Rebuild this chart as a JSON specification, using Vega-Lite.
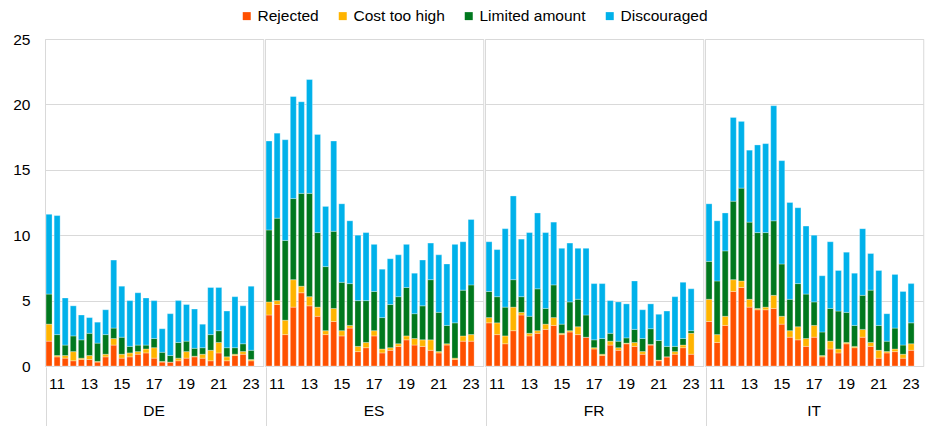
{
  "$schema": "https://vega.github.io/schema/vega-lite/v6.json",
  "padding": {"left": 12, "top": 8, "right": 3, "bottom": 0},
  "config": {
    "font": "Liberation Sans",
    "view": {"stroke": "#d9d9d9", "strokeWidth": 1},
    "facet": {"spacing": 0}
  },
  "data": {
    "values": [
      {"c":"DE","p":"10H2","Rejected":1.9,"Cost too high":1.3,"Limited amount":2.3,"Discouraged":6.1},
      {"c":"DE","p":"11H1","Rejected":0.7,"Cost too high":0.1,"Limited amount":1.6,"Discouraged":9.1},
      {"c":"DE","p":"11H2","Rejected":0.6,"Cost too high":0.2,"Limited amount":0.8,"Discouraged":3.6},
      {"c":"DE","p":"12H1","Rejected":0.4,"Cost too high":0.7,"Limited amount":1.2,"Discouraged":2.3},
      {"c":"DE","p":"12H2","Rejected":0.5,"Cost too high":0.1,"Limited amount":1.4,"Discouraged":1.9},
      {"c":"DE","p":"13H1","Rejected":0.5,"Cost too high":0.3,"Limited amount":1.7,"Discouraged":1.2},
      {"c":"DE","p":"13H2","Rejected":0.3,"Cost too high":0.05,"Limited amount":1.4,"Discouraged":1.6},
      {"c":"DE","p":"14H1","Rejected":0.7,"Cost too high":0.2,"Limited amount":1.5,"Discouraged":1.9},
      {"c":"DE","p":"14H2","Rejected":1.6,"Cost too high":0.5,"Limited amount":0.8,"Discouraged":5.2},
      {"c":"DE","p":"15H1","Rejected":0.6,"Cost too high":0.3,"Limited amount":1.3,"Discouraged":3.9},
      {"c":"DE","p":"15H2","Rejected":0.7,"Cost too high":0.3,"Limited amount":0.5,"Discouraged":3.5},
      {"c":"DE","p":"16H1","Rejected":0.9,"Cost too high":0.2,"Limited amount":0.5,"Discouraged":4.0},
      {"c":"DE","p":"16H2","Rejected":1.0,"Cost too high":0.3,"Limited amount":0.3,"Discouraged":3.6},
      {"c":"DE","p":"17H1","Rejected":0.6,"Cost too high":0.8,"Limited amount":0.7,"Discouraged":2.9},
      {"c":"DE","p":"17H2","Rejected":0.3,"Cost too high":0.05,"Limited amount":0.7,"Discouraged":1.8},
      {"c":"DE","p":"18H1","Rejected":0.3,"Cost too high":0.0,"Limited amount":0.5,"Discouraged":3.2},
      {"c":"DE","p":"18H2","Rejected":0.4,"Cost too high":0.2,"Limited amount":1.2,"Discouraged":3.2},
      {"c":"DE","p":"19H1","Rejected":0.6,"Cost too high":0.5,"Limited amount":0.8,"Discouraged":2.8},
      {"c":"DE","p":"19H2","Rejected":0.7,"Cost too high":0.05,"Limited amount":0.6,"Discouraged":3.0},
      {"c":"DE","p":"20H1","Rejected":0.6,"Cost too high":0.3,"Limited amount":0.5,"Discouraged":1.8},
      {"c":"DE","p":"20H2","Rejected":0.4,"Cost too high":0.8,"Limited amount":1.2,"Discouraged":3.6},
      {"c":"DE","p":"21H1","Rejected":1.0,"Cost too high":0.8,"Limited amount":0.9,"Discouraged":3.3},
      {"c":"DE","p":"21H2","Rejected":0.4,"Cost too high":0.3,"Limited amount":0.7,"Discouraged":2.8},
      {"c":"DE","p":"22H1","Rejected":0.8,"Cost too high":0.1,"Limited amount":0.5,"Discouraged":3.9},
      {"c":"DE","p":"22H2","Rejected":0.9,"Cost too high":0.2,"Limited amount":0.6,"Discouraged":2.9},
      {"c":"DE","p":"23H1","Rejected":0.4,"Cost too high":0.1,"Limited amount":0.7,"Discouraged":4.9},
      {"c":"ES","p":"10H2","Rejected":3.9,"Cost too high":1.0,"Limited amount":5.5,"Discouraged":6.8},
      {"c":"ES","p":"11H1","Rejected":4.7,"Cost too high":0.3,"Limited amount":6.3,"Discouraged":6.5},
      {"c":"ES","p":"11H2","Rejected":2.4,"Cost too high":1.1,"Limited amount":6.1,"Discouraged":7.7},
      {"c":"ES","p":"12H1","Rejected":4.5,"Cost too high":2.1,"Limited amount":6.2,"Discouraged":7.8},
      {"c":"ES","p":"12H2","Rejected":5.6,"Cost too high":0.5,"Limited amount":7.1,"Discouraged":7.0},
      {"c":"ES","p":"13H1","Rejected":4.6,"Cost too high":0.7,"Limited amount":7.9,"Discouraged":8.7},
      {"c":"ES","p":"13H2","Rejected":3.8,"Cost too high":0.7,"Limited amount":5.7,"Discouraged":7.5},
      {"c":"ES","p":"14H1","Rejected":2.4,"Cost too high":0.3,"Limited amount":4.9,"Discouraged":4.6},
      {"c":"ES","p":"14H2","Rejected":3.4,"Cost too high":1.0,"Limited amount":5.9,"Discouraged":6.9},
      {"c":"ES","p":"15H1","Rejected":2.3,"Cost too high":0.4,"Limited amount":3.7,"Discouraged":6.0},
      {"c":"ES","p":"15H2","Rejected":2.9,"Cost too high":0.2,"Limited amount":3.2,"Discouraged":4.8},
      {"c":"ES","p":"16H1","Rejected":1.1,"Cost too high":0.4,"Limited amount":3.5,"Discouraged":5.0},
      {"c":"ES","p":"16H2","Rejected":1.4,"Cost too high":0.4,"Limited amount":3.2,"Discouraged":5.2},
      {"c":"ES","p":"17H1","Rejected":2.3,"Cost too high":0.4,"Limited amount":3.0,"Discouraged":3.6},
      {"c":"ES","p":"17H2","Rejected":1.0,"Cost too high":0.3,"Limited amount":2.4,"Discouraged":3.7},
      {"c":"ES","p":"18H1","Rejected":1.2,"Cost too high":0.2,"Limited amount":3.3,"Discouraged":3.5},
      {"c":"ES","p":"18H2","Rejected":1.5,"Cost too high":0.2,"Limited amount":3.6,"Discouraged":3.2},
      {"c":"ES","p":"19H1","Rejected":2.0,"Cost too high":0.3,"Limited amount":3.7,"Discouraged":3.3},
      {"c":"ES","p":"19H2","Rejected":1.6,"Cost too high":0.5,"Limited amount":1.9,"Discouraged":3.1},
      {"c":"ES","p":"20H1","Rejected":1.5,"Cost too high":0.5,"Limited amount":2.6,"Discouraged":3.5},
      {"c":"ES","p":"20H2","Rejected":1.2,"Cost too high":0.8,"Limited amount":4.6,"Discouraged":2.8},
      {"c":"ES","p":"21H1","Rejected":1.0,"Cost too high":0.1,"Limited amount":3.0,"Discouraged":4.4},
      {"c":"ES","p":"21H2","Rejected":1.6,"Cost too high":0.1,"Limited amount":1.4,"Discouraged":4.7},
      {"c":"ES","p":"22H1","Rejected":0.5,"Cost too high":0.1,"Limited amount":2.7,"Discouraged":6.0},
      {"c":"ES","p":"22H2","Rejected":1.9,"Cost too high":0.4,"Limited amount":3.5,"Discouraged":3.7},
      {"c":"ES","p":"23H1","Rejected":1.9,"Cost too high":0.5,"Limited amount":3.8,"Discouraged":5.0},
      {"c":"FR","p":"10H2","Rejected":3.3,"Cost too high":0.4,"Limited amount":2.0,"Discouraged":3.8},
      {"c":"FR","p":"11H1","Rejected":2.4,"Cost too high":0.9,"Limited amount":2.0,"Discouraged":3.6},
      {"c":"FR","p":"11H2","Rejected":1.7,"Cost too high":0.6,"Limited amount":2.2,"Discouraged":6.0},
      {"c":"FR","p":"12H1","Rejected":2.7,"Cost too high":1.8,"Limited amount":2.1,"Discouraged":6.4},
      {"c":"FR","p":"12H2","Rejected":3.9,"Cost too high":0.2,"Limited amount":1.2,"Discouraged":4.4},
      {"c":"FR","p":"13H1","Rejected":2.3,"Cost too high":0.2,"Limited amount":1.3,"Discouraged":6.4},
      {"c":"FR","p":"13H2","Rejected":2.5,"Cost too high":0.2,"Limited amount":3.2,"Discouraged":5.8},
      {"c":"FR","p":"14H1","Rejected":2.8,"Cost too high":0.4,"Limited amount":1.2,"Discouraged":5.8},
      {"c":"FR","p":"14H2","Rejected":3.1,"Cost too high":0.6,"Limited amount":2.5,"Discouraged":4.8},
      {"c":"FR","p":"15H1","Rejected":2.4,"Cost too high":0.1,"Limited amount":0.7,"Discouraged":5.8},
      {"c":"FR","p":"15H2","Rejected":2.6,"Cost too high":0.1,"Limited amount":2.2,"Discouraged":4.5},
      {"c":"FR","p":"16H1","Rejected":2.4,"Cost too high":0.6,"Limited amount":2.1,"Discouraged":3.9},
      {"c":"FR","p":"16H2","Rejected":2.2,"Cost too high":0.0,"Limited amount":1.7,"Discouraged":5.1},
      {"c":"FR","p":"17H1","Rejected":1.3,"Cost too high":0.1,"Limited amount":0.6,"Discouraged":4.3},
      {"c":"FR","p":"17H2","Rejected":0.8,"Cost too high":0.1,"Limited amount":1.2,"Discouraged":4.2},
      {"c":"FR","p":"18H1","Rejected":1.6,"Cost too high":0.3,"Limited amount":0.6,"Discouraged":2.5},
      {"c":"FR","p":"18H2","Rejected":1.2,"Cost too high":0.2,"Limited amount":0.5,"Discouraged":3.0},
      {"c":"FR","p":"19H1","Rejected":1.7,"Cost too high":0.05,"Limited amount":0.4,"Discouraged":2.6},
      {"c":"FR","p":"19H2","Rejected":1.5,"Cost too high":0.3,"Limited amount":1.0,"Discouraged":3.7},
      {"c":"FR","p":"20H1","Rejected":0.9,"Cost too high":0.2,"Limited amount":1.0,"Discouraged":2.2},
      {"c":"FR","p":"20H2","Rejected":1.6,"Cost too high":0.05,"Limited amount":1.2,"Discouraged":1.9},
      {"c":"FR","p":"21H1","Rejected":0.4,"Cost too high":0.05,"Limited amount":1.5,"Discouraged":2.0},
      {"c":"FR","p":"21H2","Rejected":0.7,"Cost too high":0.0,"Limited amount":0.8,"Discouraged":2.7},
      {"c":"FR","p":"22H1","Rejected":0.9,"Cost too high":0.2,"Limited amount":0.4,"Discouraged":3.8},
      {"c":"FR","p":"22H2","Rejected":1.4,"Cost too high":0.2,"Limited amount":0.5,"Discouraged":4.3},
      {"c":"FR","p":"23H1","Rejected":0.9,"Cost too high":1.6,"Limited amount":0.2,"Discouraged":3.2},
      {"c":"IT","p":"10H2","Rejected":3.4,"Cost too high":1.7,"Limited amount":2.9,"Discouraged":4.4},
      {"c":"IT","p":"11H1","Rejected":1.8,"Cost too high":0.6,"Limited amount":4.1,"Discouraged":4.6},
      {"c":"IT","p":"11H2","Rejected":3.1,"Cost too high":0.7,"Limited amount":5.0,"Discouraged":2.9},
      {"c":"IT","p":"12H1","Rejected":5.7,"Cost too high":0.9,"Limited amount":6.0,"Discouraged":6.4},
      {"c":"IT","p":"12H2","Rejected":6.0,"Cost too high":0.5,"Limited amount":7.1,"Discouraged":5.1},
      {"c":"IT","p":"13H1","Rejected":4.5,"Cost too high":0.6,"Limited amount":5.9,"Discouraged":5.5},
      {"c":"IT","p":"13H2","Rejected":4.3,"Cost too high":0.1,"Limited amount":5.8,"Discouraged":6.7},
      {"c":"IT","p":"14H1","Rejected":4.3,"Cost too high":0.2,"Limited amount":5.7,"Discouraged":6.8},
      {"c":"IT","p":"14H2","Rejected":4.4,"Cost too high":1.0,"Limited amount":5.7,"Discouraged":8.8},
      {"c":"IT","p":"15H1","Rejected":3.2,"Cost too high":0.6,"Limited amount":4.0,"Discouraged":7.9},
      {"c":"IT","p":"15H2","Rejected":2.2,"Cost too high":0.5,"Limited amount":2.4,"Discouraged":7.4},
      {"c":"IT","p":"16H1","Rejected":2.0,"Cost too high":1.0,"Limited amount":3.3,"Discouraged":5.8},
      {"c":"IT","p":"16H2","Rejected":1.5,"Cost too high":0.6,"Limited amount":3.4,"Discouraged":5.2},
      {"c":"IT","p":"17H1","Rejected":2.2,"Cost too high":0.9,"Limited amount":1.8,"Discouraged":5.1},
      {"c":"IT","p":"17H2","Rejected":0.7,"Cost too high":0.1,"Limited amount":1.8,"Discouraged":4.3},
      {"c":"IT","p":"18H1","Rejected":1.3,"Cost too high":0.6,"Limited amount":2.5,"Discouraged":5.1},
      {"c":"IT","p":"18H2","Rejected":1.0,"Cost too high":0.3,"Limited amount":2.9,"Discouraged":3.1},
      {"c":"IT","p":"19H1","Rejected":1.7,"Cost too high":0.1,"Limited amount":2.3,"Discouraged":4.6},
      {"c":"IT","p":"19H2","Rejected":1.4,"Cost too high":0.1,"Limited amount":1.6,"Discouraged":4.0},
      {"c":"IT","p":"20H1","Rejected":2.2,"Cost too high":0.6,"Limited amount":2.6,"Discouraged":5.1},
      {"c":"IT","p":"20H2","Rejected":1.5,"Cost too high":0.3,"Limited amount":4.0,"Discouraged":2.8},
      {"c":"IT","p":"21H1","Rejected":0.6,"Cost too high":0.6,"Limited amount":1.9,"Discouraged":4.2},
      {"c":"IT","p":"21H2","Rejected":1.0,"Cost too high":0.1,"Limited amount":0.8,"Discouraged":2.1},
      {"c":"IT","p":"22H1","Rejected":1.1,"Cost too high":0.2,"Limited amount":1.6,"Discouraged":4.1},
      {"c":"IT","p":"22H2","Rejected":0.6,"Cost too high":0.3,"Limited amount":0.7,"Discouraged":4.1},
      {"c":"IT","p":"23H1","Rejected":1.2,"Cost too high":0.5,"Limited amount":1.6,"Discouraged":3.0}
    ]
  },
  "transform": [
    {"fold": ["Rejected", "Cost too high", "Limited amount", "Discouraged"], "as": ["type", "value"]},
    {"calculate": "indexof(['Rejected', 'Cost too high', 'Limited amount', 'Discouraged'], datum.type)", "as": "stackOrder"}
  ],
  "facet": {
    "column": {
      "field": "c",
      "type": "nominal",
      "title": null,
      "header": {"labelOrient": "bottom", "labelFontSize": 15.5, "labelColor": "#000000", "labelPadding": -24, "labelFont": "Liberation Sans"}
    }
  },
  "spec": {
    "width": 218.25,
    "height": 327,
    "mark": {"type": "bar", "stroke": "#ffffff", "strokeWidth": 0.5, "strokeOpacity": 0.6},
    "encoding": {
      "x": {
        "field": "p",
        "type": "ordinal",
        "scale": {
          "domain": ["10H2","11H1","11H2","12H1","12H2","13H1","13H2","14H1","14H2","15H1","15H2","16H1","16H2","17H1","17H2","18H1","18H2","19H1","19H2","20H1","20H2","21H1","21H2","22H1","22H2","23H1","23H2"],
          "paddingInner": 0.26,
          "paddingOuter": 0.13
        },
        "axis": {
          "title": null,
          "domain": false,
          "grid": false,
          "ticks": true,
          "bandPosition": 0,
          "tickSize": 60,
          "tickWidth": 1,
          "tickColor": {"condition": {"test": "datum.value === '10H2'", "value": "#d9d9d9"}, "value": "transparent"},
          "labelAngle": 0,
          "labelOverlap": false,
          "labelFontSize": 15.5,
          "labelColor": "#000000",
          "labelPadding": -51,
          "labelExpr": "indexof(datum.value, 'H1') > 0 && toNumber(slice(datum.value, 0, 2)) % 2 == 1 ? slice(datum.value, 0, 2) : ''"
        }
      },
      "y": {
        "field": "value",
        "type": "quantitative",
        "stack": "zero",
        "scale": {"domain": [0, 25], "nice": false},
        "axis": {
          "title": null,
          "values": [0, 5, 10, 15, 20, 25],
          "domain": false,
          "ticks": false,
          "gridColor": "#d9d9d9",
          "labelFontSize": 15.5,
          "labelColor": "#000000",
          "labelPadding": 14
        }
      },
      "order": {"field": "stackOrder", "type": "quantitative", "sort": "ascending"},
      "color": {
        "field": "type",
        "type": "nominal",
        "scale": {
          "domain": ["Rejected", "Cost too high", "Limited amount", "Discouraged"],
          "range": ["#ff5000", "#ffb400", "#00781e", "#00b1ea"]
        },
        "legend": {
          "title": null,
          "orient": "none",
          "legendX": 194,
          "legendY": -31,
          "direction": "horizontal",
          "symbolType": "square",
          "symbolSize": 64,
          "symbolStrokeWidth": 0,
          "labelFontSize": 15.5,
          "labelColor": "#000000",
          "labelOffset": 3,
          "columnPadding": 16
        }
      }
    }
  }
}
